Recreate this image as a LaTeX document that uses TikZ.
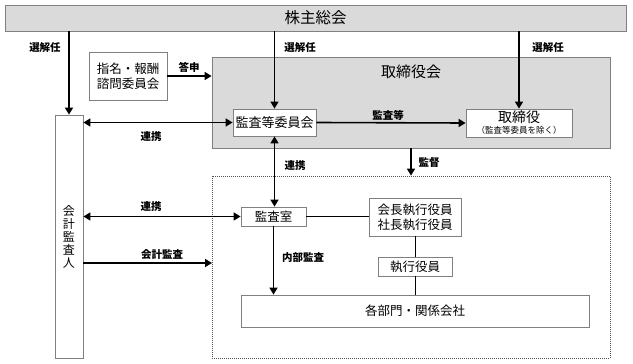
\documentclass[tikz,border=0pt]{standalone}
\usepackage{fontspec}
\setmainfont{Noto Sans CJK JP}
\usepackage{tikz}
\usetikzlibrary{arrows.meta}
\definecolor{PanelGray}{HTML}{DADADA}
\definecolor{FrameGray}{HTML}{808080}
\definecolor{DotGray}{HTML}{505050}

\begin{document}
\begin{tikzpicture}[
    x=1pt,y=-1pt,
    panel/.style={draw=FrameGray,line width=0.8pt,fill=PanelGray,inner sep=0pt},
    box/.style={draw=FrameGray,line width=0.8pt,fill=white,inner sep=0pt,align=center,
      font=\fontsize{12.5}{15}\selectfont},
    frame/.style={draw=DotGray,line width=0.8pt,dash pattern=on 1pt off 1pt,inner sep=0pt},
    lbl/.style={font=\fontsize{10.5}{12}\selectfont\bfseries},
    arr/.style={-{Triangle[length=7pt,width=8pt]},line width=1.6pt},
    both/.style={{Triangle[length=7pt,width=8pt]}-{Triangle[length=7pt,width=8pt]},line width=1.6pt},
    link/.style={line width=1pt}
  ]
    \useasboundingbox (0,0) rectangle (633,364);
    \node[panel,minimum width=621pt,minimum height=26pt,font=\fontsize{15.5}{18}\selectfont] (gm) at (315.5,18) {株主総会};
    \node[panel,minimum width=398pt,minimum height=91pt] (board) at (411,102.5) {};
    \node[font=\fontsize{15}{18}\selectfont] (boardtitle) at (411,72) {取締役会};
    \node[frame,minimum width=398pt,minimum height=182pt] (exec) at (411,267) {};
    \node[box,minimum width=28pt,minimum height=243pt,font=\fontsize{12}{13}\selectfont] (aud) at (69,236.5) {会\\計\\監\\査\\人};
    \node[box,minimum width=78pt,minimum height=48pt] (nom) at (128,76) {指名・報酬\\諮問委員会};
    \node[box,minimum width=83pt,minimum height=27pt,font=\fontsize{13}{15}\selectfont] (ac) at (274.5,122.5) {監査等委員会};
    \node[box,minimum width=106pt,minimum height=28pt,font=\fontsize{14}{12}\selectfont] (dir) at (519,123)
      {取締役\\[-1pt]{\fontsize{8.5}{9}\selectfont （監査等委員を除く）}};
    \node[box,minimum width=65pt,minimum height=19pt] (ia) at (273.5,216.5) {監査室};
    \node[box,minimum width=92pt,minimum height=38pt] (pres) at (415,217) {会長執行役員\\社長執行役員};
    \node[box,minimum width=74pt,minimum height=19pt] (eo) at (415,266.5) {執行役員};
    \node[box,minimum width=348pt,minimum height=32pt] (dept) at (415,311) {各部門・関係会社};
    \coordinate (auditin) at (212,263);

    \draw[arr] (gm.south -| aud) -- (aud.north);
    \draw[arr] (gm.south -| ac) -- (ac.north);
    \draw[arr] (gm.south -| dir) -- (dir.north);
    \draw[arr] (nom.east) -- (nom.east -| board.west);
    \draw[both] (aud.east |- ac.west) -- (ac.west);
    \draw[arr] (ac.east) -- (dir.west);
    \draw[arr] (board.south) -- (exec.north);
    \draw[both] (ac.south) -- (ac.south |- ia.north);
    \draw[both] (aud.east |- ia.west) -- (ia.west);
    \draw[arr] (aud.east |- auditin) -- (auditin);
    \draw[arr] (ia.south) -- (ia.south |- dept.north);
    \draw[link] (ia.east) -- (ia.east -| pres.west);
    \draw[link] (pres.south) -- (eo.north);
    \draw[link] (eo.south) -- (dept.north -| eo);

    \node[lbl] (l1) at (45,48) {選解任};
    \node[lbl] (l2) at (300,48) {選解任};
    \node[lbl] (l3) at (548,48) {選解任};
    \node[lbl] (l4) at (189,67) {答申};
    \node[lbl] (l5) at (151,137) {連携};
    \node[lbl] (l6) at (388,115) {監査等};
    \node[lbl] (l7) at (429,163) {監督};
    \node[lbl] (l8) at (295,166) {連携};
    \node[lbl] (l9) at (151,207) {連携};
    \node[lbl] (l10) at (162,255) {会計監査};
    \node[lbl] (l11) at (303,258) {内部監査};
  \end{tikzpicture}
\end{document}
